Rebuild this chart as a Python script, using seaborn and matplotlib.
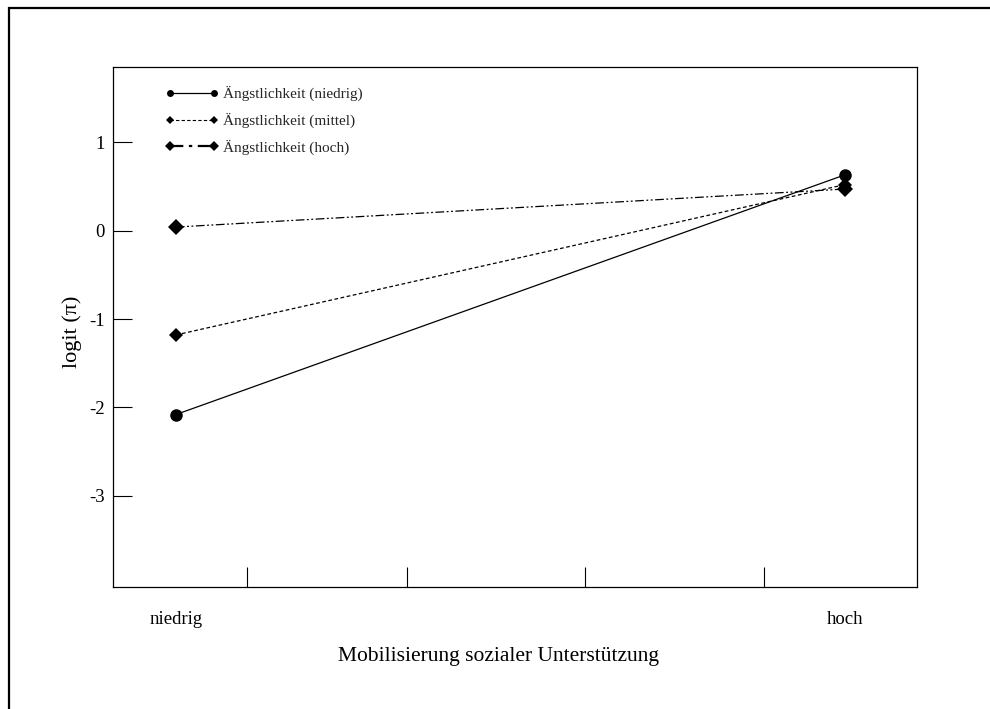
import numpy as np
import pandas as pd
import seaborn as sns
import matplotlib
matplotlib.use("Agg")
import matplotlib.pyplot as plt
from matplotlib.lines import Line2D
from matplotlib.patches import Rectangle

# ---- data ----
support_levels = ["niedrig", "hoch"]
groups = ["Ängstlichkeit (niedrig)", "Ängstlichkeit (mittel)", "Ängstlichkeit (hoch)"]
logit_niedrig = [-2.08, 0.63]
logit_mittel = [-1.18, 0.52]
logit_hoch = [0.04, 0.47]
y_ticks = [1, 0, -1, -2, -3]
y_label = "logit (π)"
x_label = "Mobilisierung sozialer Unterstützung"

rows = []
for g, vals in zip(groups, [logit_niedrig, logit_mittel, logit_hoch]):
    for i, v in enumerate(vals):
        rows.append({"x": i, "group": g, "logit": v})
df = pd.DataFrame(rows)

sns.set_theme(style="white")
plt.rcParams["font.family"] = ["Liberation Serif", "DejaVu Serif"]
plt.rcParams["axes.unicode_minus"] = False

fig = plt.figure(figsize=(9.9, 7.09), dpi=100)
ax = fig.add_axes([113 / 990, 1 - 587 / 709, (917 - 113) / 990, (587 - 67) / 709])

markers = {groups[0]: "o", groups[1]: "D", groups[2]: "D"}
dashes = {groups[0]: "", groups[1]: (3, 2), groups[2]: (7, 2, 1.5, 2, 1.5, 2)}
sns.lineplot(data=df, x="x", y="logit", hue="group", style="group",
             hue_order=groups, style_order=groups,
             palette=["black"] * 3, markers=markers, dashes=dashes,
             linewidth=0.9, markersize=8, legend=False, ax=ax)

msizes = [9, 7, 8]
for line, ms in zip(ax.lines, msizes):
    line.set_markersize(ms)
    line.set_markeredgewidth(0)

ax.set_xlim(-0.094, 1.108)
ax.set_ylim(-4.03, 1.85)

ax.set_yticks(y_ticks)
ax.set_yticklabels([str(t) for t in y_ticks])
ax.set_xticks([0, 1])
ax.set_xticklabels(support_levels)
ax.set_xticks([0.106, 0.345, 0.611, 0.879], minor=True)
ax.tick_params(axis="y", which="major", direction="in", length=14, width=0.8,
               color="black", labelsize=13.5, pad=6, left=True)
ax.tick_params(axis="x", which="major", length=0, labelsize=13.5, pad=17, bottom=True)
ax.tick_params(axis="x", which="minor", direction="in", length=14.5, width=0.8,
               color="black", bottom=True)
for t in ax.get_xticklabels() + ax.get_yticklabels():
    t.set_color("black")

for s in ax.spines.values():
    s.set_color("black")
    s.set_linewidth(0.9)

ax.set_xlabel(x_label, fontsize=15.5, color="black")
ax.xaxis.set_label_coords(0.479, -0.115)
ax.set_ylabel(y_label, fontsize=16, color="black")
ax.yaxis.set_label_coords(-0.039, 0.49)
ax.grid(False)

handles = [
    Line2D([], [], color="black", lw=0.9, ls="-", marker="o", markersize=5, markeredgewidth=0),
    Line2D([], [], color="black", lw=0.8, ls=(0, (3, 2)), marker="D", markersize=4, markeredgewidth=0),
    Line2D([], [], color="black", lw=1.6, ls=(0, (6, 2.5, 1.5, 2.5)), marker="D", markersize=5, markeredgewidth=0),
]
ax.legend(handles, groups, loc="upper left", bbox_to_anchor=(0.048, 0.99),
          frameon=False, numpoints=2, handlelength=3.5, handletextpad=0.3,
          labelspacing=0.75, fontsize=11)

fig.patches.append(Rectangle((9 / 990, -0.1), 1.2, 1 - 8 / 709 + 0.1,
                             transform=fig.transFigure, fill=False,
                             edgecolor="black", linewidth=1.6))

fig.savefig("out.png", dpi=100)
